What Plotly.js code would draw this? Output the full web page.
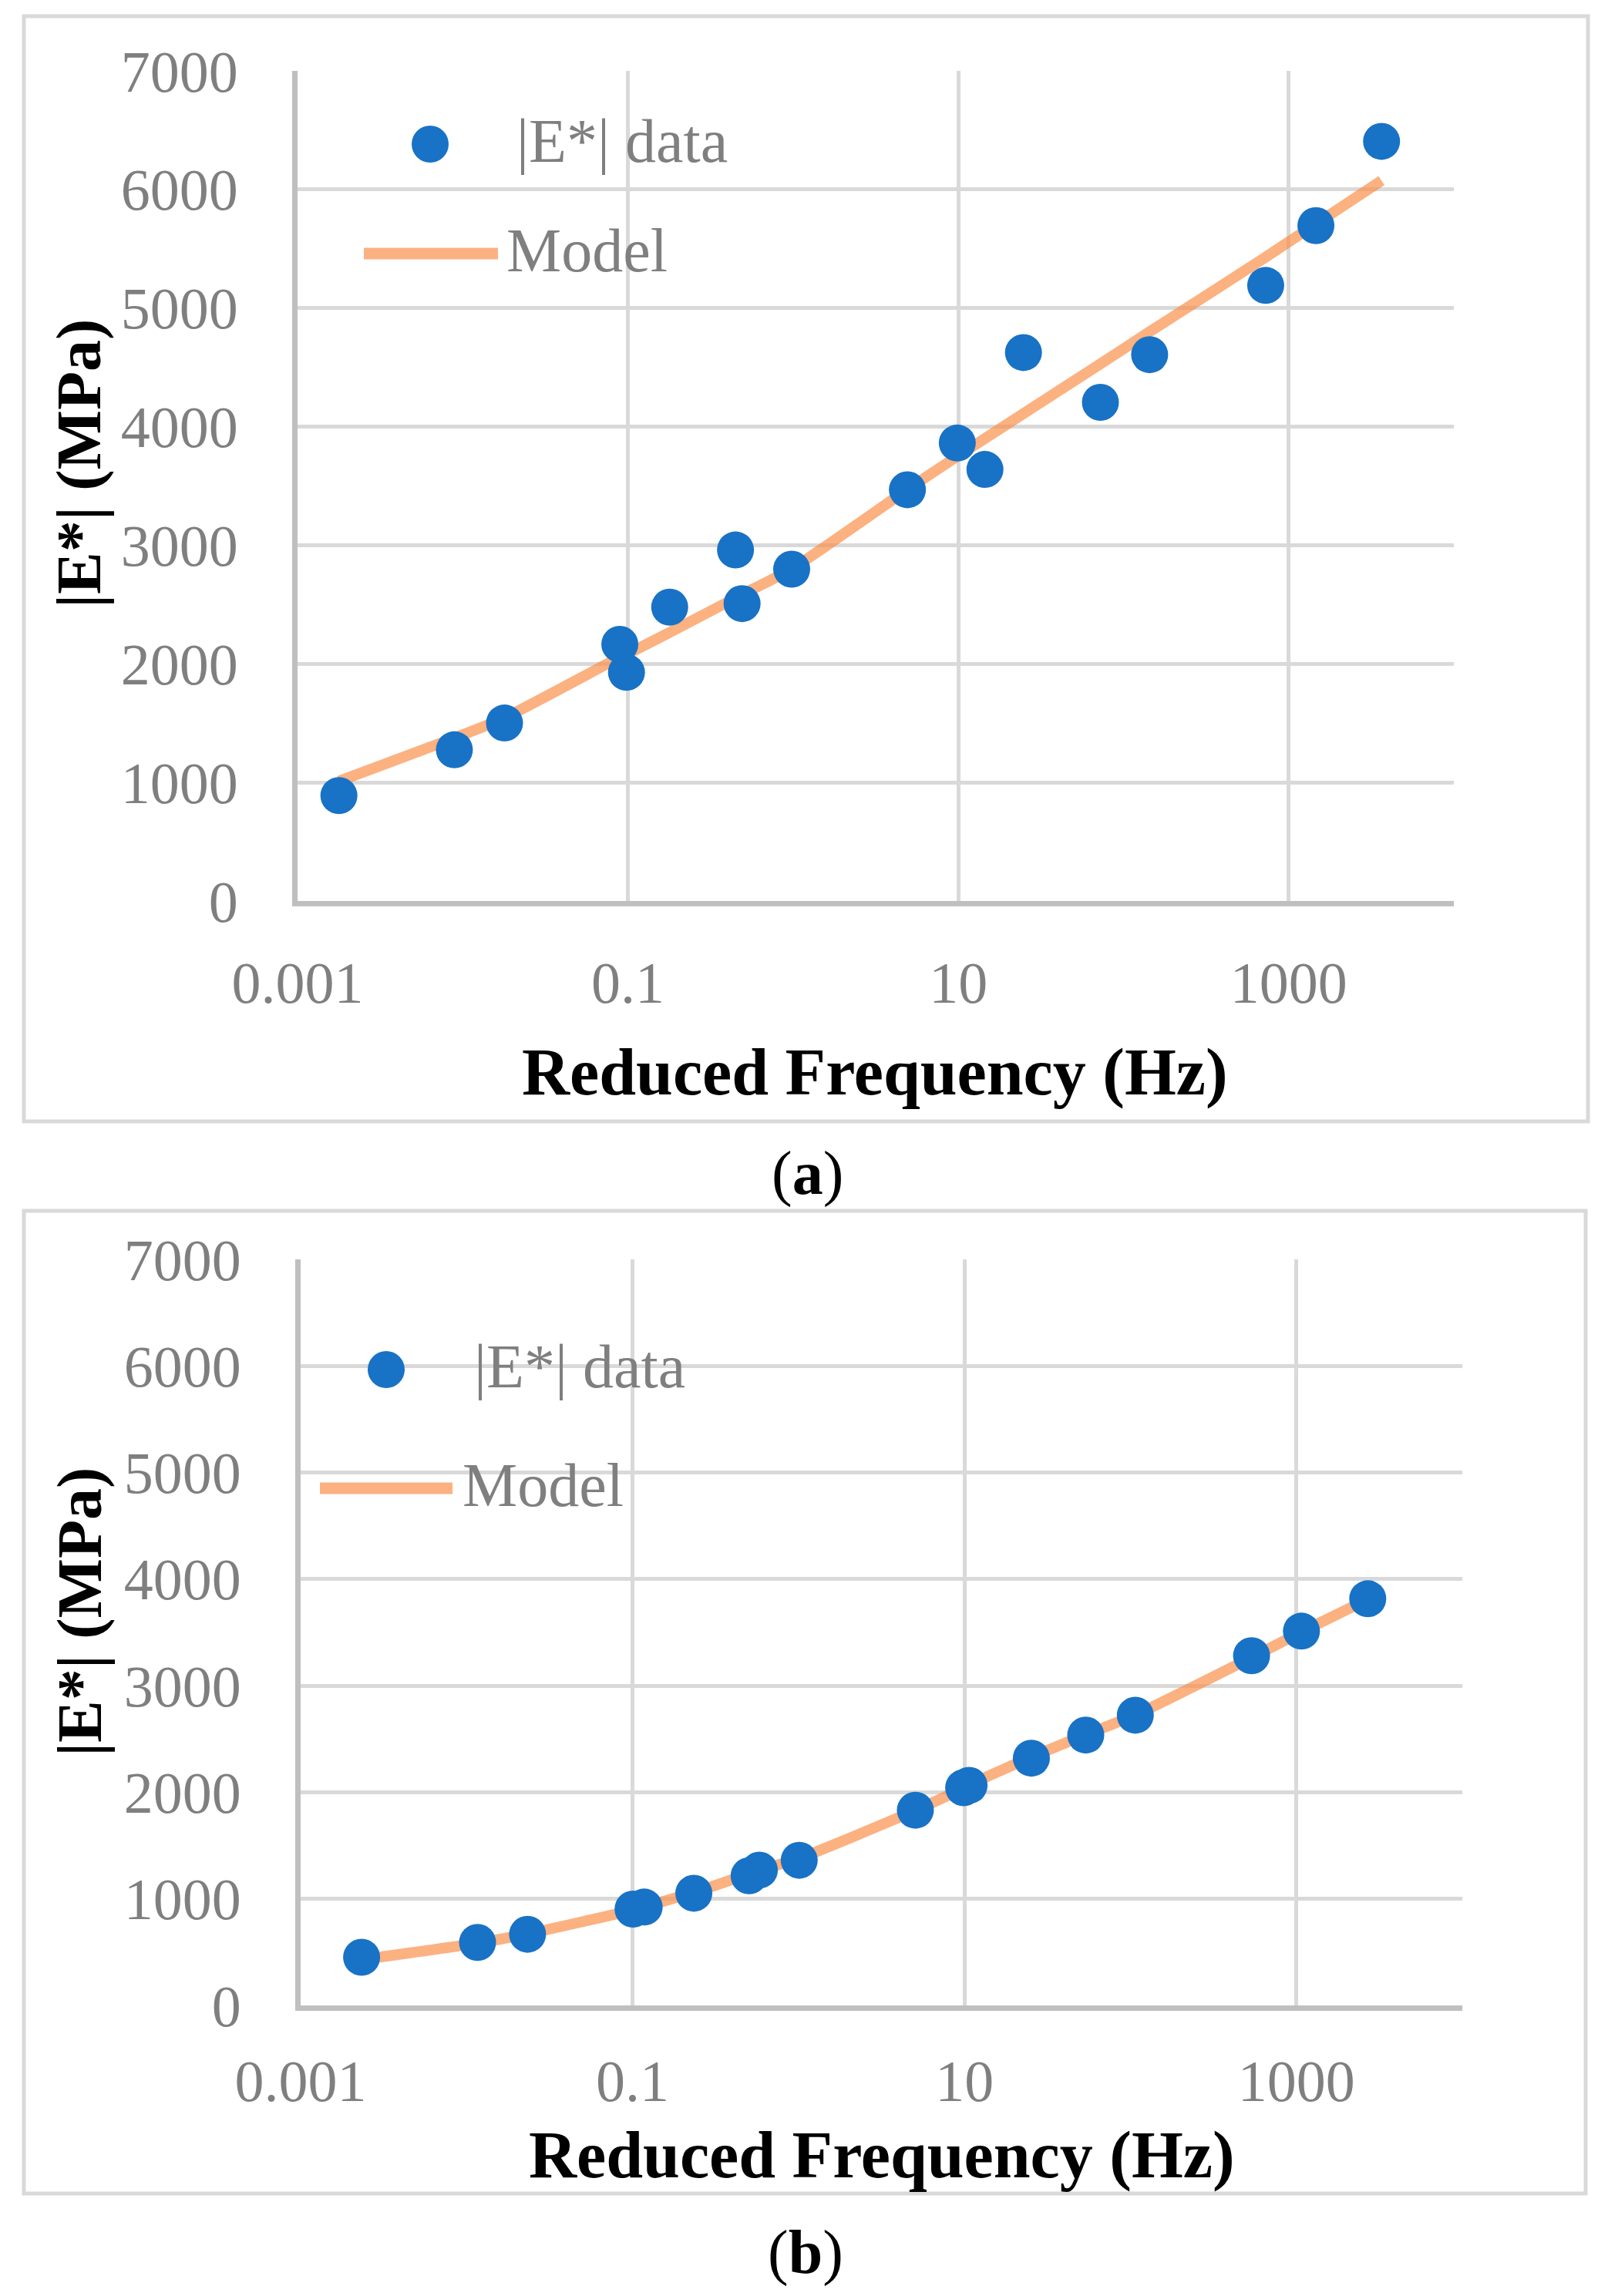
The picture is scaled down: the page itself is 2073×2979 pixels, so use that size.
<!DOCTYPE html>
<html>
<head>
<meta charset="utf-8">
<script src="https://cdn.plot.ly/plotly-3.0.1.min.js"></script>
<style>html,body{margin:0;padding:0;background:#fff;}#chart{width:2073px;height:2979px;}</style>
</head>
<body>
<div id="chart"></div>
<script>
// ---------- data ----------
const freqA  = [0.00178, 0.0089, 0.0179, 0.0893, 0.098, 0.179, 0.448, 0.491, 0.98, 4.92, 9.86, 14.5, 24.8, 72.5, 144, 726, 1462, 3650];
const dataA  = [889, 1275, 1501, 2165, 1928, 2478, 2960, 2508, 2798, 3468, 3862, 3639, 4625, 4205, 4607, 5191, 5695, 6406];
const modelA = [1010, 1375, 1545, 2055, 2080, 2265, 2555, 2585, 2800, 3470, 3750, 3900, 4110, 4530, 4800, 5430, 5710, 6075];

const freqB  = [0.00233, 0.01164, 0.0233, 0.1007, 0.1175, 0.234, 0.504, 0.581, 1.01, 5.06, 9.89, 10.66, 25.3, 53.8, 107, 537, 1073, 2692];
const dataB  = [452, 591, 668, 904, 923, 1053, 1217, 1270, 1362, 1832, 2043, 2065, 2320, 2537, 2723, 3281, 3512, 3816];
const modelB = [430, 585, 672, 895, 925, 1060, 1235, 1270, 1380, 1830, 2040, 2070, 2330, 2540, 2725, 3265, 3505, 3810];

const xTickVals   = [0.001, 0.1, 10, 1000];
const xTickLabels = ['0.001', '0.1', '10', '1000'];
const yTickVals   = [0, 1000, 2000, 3000, 4000, 5000, 6000, 7000];
const yTickLabels = ['0', '1000', '2000', '3000', '4000', '5000', '6000', '7000'];

const dataName  = '|E*| data';
const modelName = 'Model';
const xTitle = 'Reduced Frequency (Hz)';
const yTitle = '|E*| (MPa)';
const captions = ['(<b>a</b>)', '(<b>b</b>)'];

// ---------- styling ----------
const W = 2073, H = 2979;
const px = v => v / W;
const py = v => 1 - v / H;
const SERIF = 'Liberation Serif, Times New Roman, serif';
const BLUE = '#1872c6';
const ORANGE = 'rgba(250,140,70,0.68)';
const ORANGE_SOLID = '#fcb181';
const GRID = '#d9d9d9';
const AXIS = '#bfbfbf';
const TICKGRAY = '#7f7f7f';

function xAxis(domain, anchor, tlen) {
  return {
    domain: domain, anchor: anchor, type: 'log', range: [-3, 4],
    tickmode: 'array', tickvals: xTickVals, ticktext: xTickLabels,
    showgrid: true, gridcolor: GRID, gridwidth: 5,
    showline: true, linecolor: AXIS, linewidth: 7,
    ticks: 'outside', ticklen: tlen, tickcolor: 'rgba(0,0,0,0)',
    tickfont: {family: SERIF, size: 76, color: TICKGRAY},
    zeroline: false, automargin: false, fixedrange: true
  };
}
function yAxis(domain, anchor) {
  return {
    domain: domain, anchor: anchor, range: [0, 7000],
    tickmode: 'array', tickvals: yTickVals, ticktext: yTickLabels,
    showgrid: true, gridcolor: GRID, gridwidth: 5,
    showline: true, linecolor: AXIS, linewidth: 7,
    ticks: 'outside', ticklen: 55, tickcolor: 'rgba(0,0,0,0)',
    tickfont: {family: SERIF, size: 76, color: TICKGRAY},
    zeroline: false, automargin: false, fixedrange: true
  };
}

function modelTrace(x, y, xa, ya) {
  return {x: x, y: y, xaxis: xa, yaxis: ya, type: 'scatter', mode: 'lines', name: modelName,
          line: {color: ORANGE, width: 14, shape: 'spline', smoothing: 0.6}, showlegend: false, hoverinfo: 'skip'};
}
function dataTrace(x, y, xa, ya) {
  return {x: x, y: y, xaxis: xa, yaxis: ya, type: 'scatter', mode: 'markers', name: dataName,
          marker: {size: 48, color: BLUE, line: {width: 0}}, showlegend: false};
}

const traces = [
  modelTrace(freqA, modelA, 'x', 'y'),
  dataTrace(freqA, dataA, 'x', 'y'),
  modelTrace(freqB, modelB, 'x2', 'y2'),
  dataTrace(freqB, dataB, 'x2', 'y2')
];

// panel geometry (pixels)
const panels = [
  {frame: [31, 21, 2060, 1455], plot: [386, 92, 1886, 1169], ticklen: 34,
   legMarker: [558, 187], legDataText: [668, 183], legLine: [472, 646, 329], legModelText: [655, 325],
   yTitle: [103, 602], xTitle: [1135, 1391], caption: [1047, 1522]},
  {frame: [31, 1571, 2057, 2846], plot: [390, 1634, 1897, 2602], ticklen: 26,
   legMarker: [501, 1777], legDataText: [613, 1773], legLine: [415, 587, 1931], legModelText: [598, 1927],
   yTitle: [103, 2092], xTitle: [1144, 2796], caption: [1045, 2922]}
];

const shapes = [];
const annotations = [];
panels.forEach((p, i) => {
  shapes.push({type: 'rect', xref: 'paper', yref: 'paper', layer: 'below',
    x0: px(p.frame[0]), x1: px(p.frame[2]), y0: py(p.frame[1]), y1: py(p.frame[3]),
    line: {color: GRID, width: 5}, fillcolor: 'rgba(0,0,0,0)'});
  // legend symbols
  const r = 24;
  shapes.push({type: 'circle', xref: 'paper', yref: 'paper',
    x0: px(p.legMarker[0] - r), x1: px(p.legMarker[0] + r), y0: py(p.legMarker[1] - r), y1: py(p.legMarker[1] + r),
    fillcolor: BLUE, line: {width: 0}});
  shapes.push({type: 'line', xref: 'paper', yref: 'paper',
    x0: px(p.legLine[0]), x1: px(p.legLine[1]), y0: py(p.legLine[2]), y1: py(p.legLine[2]),
    line: {color: ORANGE_SOLID, width: 15}});
  annotations.push({xref: 'paper', yref: 'paper', x: px(p.legDataText[0]), y: py(p.legDataText[1]),
    xanchor: 'left', yanchor: 'middle', showarrow: false, text: dataName,
    font: {family: SERIF, size: 80, color: TICKGRAY}});
  annotations.push({xref: 'paper', yref: 'paper', x: px(p.legModelText[0]), y: py(p.legModelText[1]),
    xanchor: 'left', yanchor: 'middle', showarrow: false, text: modelName,
    font: {family: SERIF, size: 80, color: TICKGRAY}});
  // axis titles
  annotations.push({xref: 'paper', yref: 'paper', x: px(p.yTitle[0]), y: py(p.yTitle[1]),
    xanchor: 'center', yanchor: 'middle', textangle: -90, showarrow: false, text: '<b>' + yTitle + '</b>',
    font: {family: SERIF, size: 82, color: '#000000'}});
  annotations.push({xref: 'paper', yref: 'paper', x: px(p.xTitle[0]), y: py(p.xTitle[1]),
    xanchor: 'center', yanchor: 'middle', showarrow: false, text: '<b>' + xTitle + '</b>',
    font: {family: SERIF, size: 86, color: '#000000'}});
  annotations.push({xref: 'paper', yref: 'paper', x: px(p.caption[0]), y: py(p.caption[1]),
    xanchor: 'center', yanchor: 'middle', showarrow: false, text: captions[i],
    font: {family: SERIF, size: 80, color: '#000000'}});
});

const pa = panels[0].plot, pb = panels[1].plot;
const layout = {
  width: W, height: H,
  margin: {l: 0, r: 0, t: 0, b: 0, pad: 0},
  paper_bgcolor: '#ffffff', plot_bgcolor: '#ffffff',
  showlegend: false,
  xaxis:  xAxis([px(pa[0]), px(pa[2])], 'y', panels[0].ticklen),
  yaxis:  yAxis([py(pa[3]), py(pa[1])], 'x'),
  xaxis2: xAxis([px(pb[0]), px(pb[2])], 'y2', panels[1].ticklen),
  yaxis2: yAxis([py(pb[3]), py(pb[1])], 'x2'),
  shapes: shapes,
  annotations: annotations
};

Plotly.newPlot('chart', traces, layout, {staticPlot: true, displayModeBar: false});
</script>
</body>
</html>
